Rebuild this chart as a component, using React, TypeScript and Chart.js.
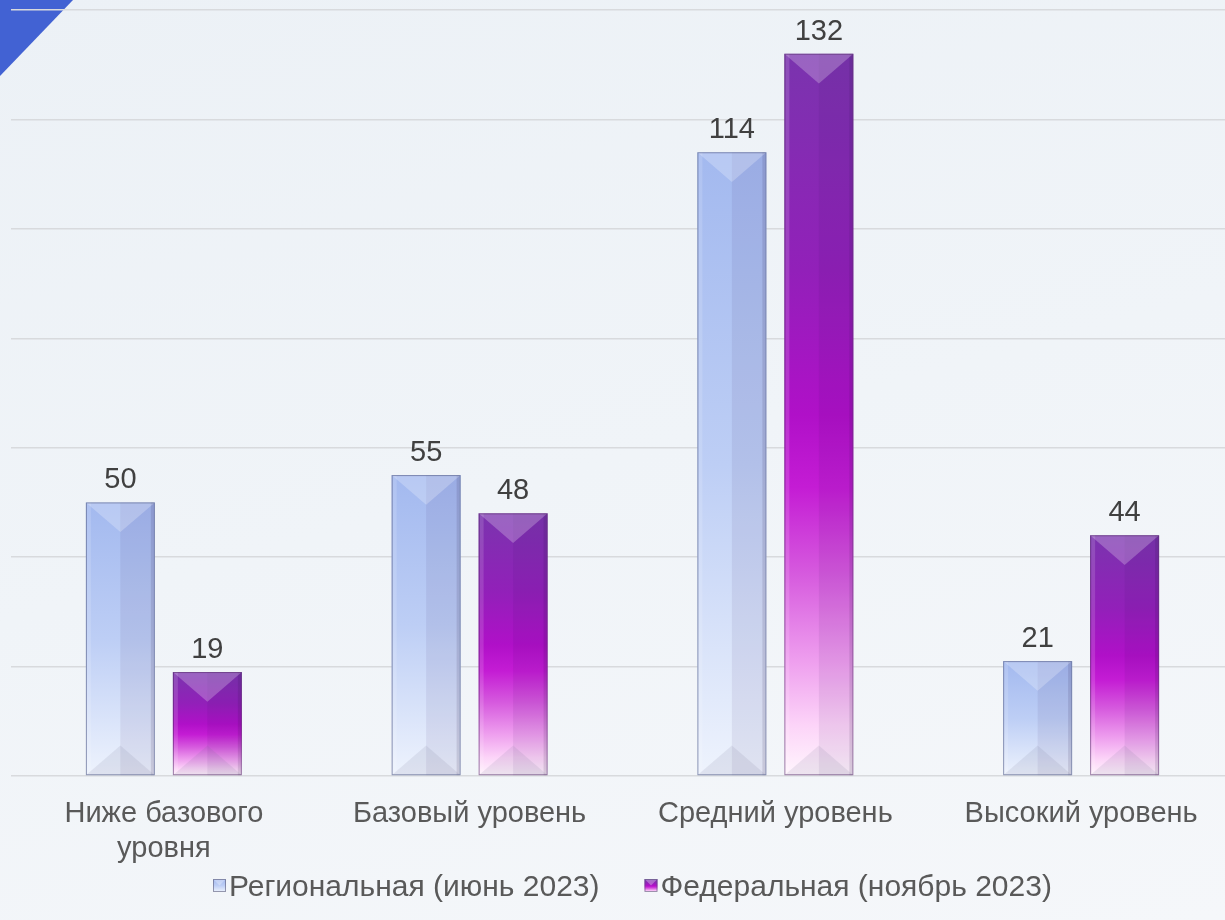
import React, { useEffect, useRef } from "react";
import { Chart, registerables } from "chart.js";

Chart.register(...registerables);

const categories: (string | string[])[] = [
  ["Ниже базового", "уровня"],
  "Базовый уровень",
  "Средний уровень",
  "Высокий уровень",
];
const regionalLabel = "Региональная (июнь 2023)";
const federalLabel = "Федеральная (ноябрь 2023)";
const regionalValues = [50, 55, 114, 21];
const federalValues = [19, 48, 132, 44];
const yMax = 140;
const yStep = 20;

const FONT = "'Liberation Sans', Arial, sans-serif";

const blueStops: [number, string][] = [
  [0, "#a3b9ef"],
  [0.5, "#bdcef5"],
  [1, "#eef3fd"],
];
const purpleStops: [number, string][] = [
  [0, "#7a34ae"],
  [0.3, "#9220b9"],
  [0.5, "#b010c8"],
  [0.6, "#c41cd4"],
  [0.72, "#d65ade"],
  [0.84, "#ee9eee"],
  [0.93, "#fcd4f8"],
  [1, "#fff6fd"],
];

function barGradient(stops: [number, string][]) {
  return (ctx: any) => {
    const chart = ctx.chart;
    const ys = chart.scales?.y;
    if (!chart.chartArea || !ys || ctx.type !== "data" || !ctx.parsed) {
      return stops[Math.floor(stops.length / 2)][1];
    }
    const top = ys.getPixelForValue(ctx.parsed.y);
    const bot = ys.getPixelForValue(0);
    const g = chart.ctx.createLinearGradient(0, top, 0, bot);
    stops.forEach(([o, c]) => g.addColorStop(o, c));
    return g;
  };
}

const bevelPlugin = {
  id: "bevel",
  afterDatasetsDraw(chart: any) {
    const ctx = chart.ctx;
    ctx.save();
    chart.data.datasets.forEach((ds: any, di: number) => {
      const meta = chart.getDatasetMeta(di);
      meta.data.forEach((el: any, i: number) => {
        const { x, y, base, width } = el.getProps(["x", "y", "base", "width"], true);
        const left = x - width / 2;
        const right = x + width / 2;
        const top = Math.min(y, base);
        const bottom = Math.max(y, base);
        const h = bottom - top;
        const d = Math.min(width * 0.43, h / 2);
        ctx.fillStyle = "rgba(40,20,90,0.07)";
        ctx.fillRect(x, top, width / 2, h);
        ctx.fillStyle = "rgba(255,255,255,0.14)";
        ctx.fillRect(left + 1, top, 4, h);
        ctx.fillStyle = "rgba(30,20,60,0.12)";
        ctx.fillRect(right - 4, top, 3, h);
        ctx.beginPath();
        ctx.moveTo(left, top);
        ctx.lineTo(right, top);
        ctx.lineTo(x, top + d);
        ctx.closePath();
        ctx.fillStyle = "rgba(255,255,255,0.24)";
        ctx.fill();
        ctx.beginPath();
        ctx.moveTo(left, bottom);
        ctx.lineTo(right, bottom);
        ctx.lineTo(x, bottom - d);
        ctx.closePath();
        ctx.fillStyle = "rgba(110,110,140,0.12)";
        ctx.fill();
        ctx.strokeStyle = di === 0 ? "rgba(100,110,150,0.7)" : "rgba(90,50,110,0.6)";
        ctx.lineWidth = 1;
        ctx.strokeRect(left + 0.5, top + 0.5, width - 1, h - 1);
        const v = ds.data[i];
        ctx.fillStyle = "#404040";
        ctx.font = `29px ${FONT}`;
        ctx.textAlign = "center";
        ctx.textBaseline = "alphabetic";
        ctx.fillText(String(v), x, top - 14);
      });
    });
    ctx.restore();
  },
};

const legendPlugin = {
  id: "customLegend",
  afterDraw(chart: any) {
    const ctx = chart.ctx;
    ctx.save();
    ctx.font = `30px ${FONT}`;
    const items = chart.data.datasets.map((ds: any, i: number) => ({
      label: ds.label as string,
      stops: i === 0 ? blueStops : purpleStops,
      w: ctx.measureText(ds.label).width,
    }));
    const box = 13;
    const gap = 3;
    const spacing = 45;
    let cx = 213;
    const baseline = 896;
    items.forEach((it: any) => {
      const by = baseline - 17;
      const g = ctx.createLinearGradient(0, by, 0, by + box);
      it.stops.forEach(([o, c]: [number, string]) => g.addColorStop(o, c));
      ctx.fillStyle = g;
      ctx.fillRect(cx, by, box, box);
      ctx.beginPath();
      ctx.moveTo(cx, by);
      ctx.lineTo(cx + box, by);
      ctx.lineTo(cx + box / 2, by + box / 2);
      ctx.closePath();
      ctx.fillStyle = "rgba(255,255,255,0.3)";
      ctx.fill();
      ctx.strokeStyle = "rgba(90,90,120,0.6)";
      ctx.lineWidth = 1;
      ctx.strokeRect(cx + 0.5, by + 0.5, box - 1, box - 1);
      cx += box + gap;
      ctx.fillStyle = "#595959";
      ctx.textAlign = "left";
      ctx.textBaseline = "alphabetic";
      ctx.fillText(it.label, cx, baseline);
      cx += it.w + spacing;
    });
    ctx.restore();
  },
};

export default function App() {
  const ref = useRef<HTMLCanvasElement>(null);
  useEffect(() => {
    if (!ref.current) return;
    const chart = new Chart(ref.current, {
      type: "bar",
      data: {
        labels: categories,
        datasets: [
          {
            label: regionalLabel,
            data: regionalValues,
            backgroundColor: barGradient(blueStops),
            borderWidth: 0,
            categoryPercentage: 0.569,
            barPercentage: 0.793,
          },
          {
            label: federalLabel,
            data: federalValues,
            backgroundColor: barGradient(purpleStops),
            borderWidth: 0,
            categoryPercentage: 0.569,
            barPercentage: 0.793,
          },
        ],
      },
      options: {
        responsive: false,
        animation: false,
        devicePixelRatio: 1,
        layout: { padding: { top: 10, left: 11, right: 6, bottom: 0 } },
        plugins: {
          legend: { display: false },
          tooltip: { enabled: false },
        },
        scales: {
          x: {
            grid: { display: false, drawTicks: false },
            border: { display: false },
            ticks: {
              color: "#595959",
              font: { family: FONT, size: 29, lineHeight: 1.21 },
              padding: 20,
              maxRotation: 0,
              autoSkip: false,
            },
            afterFit: (scale: any) => {
              scale.height = 144;
            },
          },
          y: {
            min: 0,
            max: yMax,
            ticks: { display: false, stepSize: yStep },
            grid: { color: "#d8dadd", lineWidth: 1.5, drawTicks: false },
            border: { display: false },
            afterFit: (scale: any) => {
              scale.width = 0;
            },
          },
        },
      },
      plugins: [bevelPlugin, legendPlugin],
    });
    return () => chart.destroy();
  }, []);

  return (
    <div
      style={{
        position: "fixed",
        left: 0,
        top: 0,
        width: 1225,
        height: 920,
        overflow: "hidden",
        background: "linear-gradient(165deg, #ecf1f6 0%, #f0f4f8 50%, #f5f7fa 100%)",
      }}
    >
      <div
        style={{
          position: "absolute",
          left: 0,
          top: 0,
          width: 73,
          height: 76,
          background: "#4262d3",
          clipPath: "polygon(0 0, 100% 0, 0 100%)",
        }}
      />
      <canvas
        ref={ref}
        width={1240}
        height={920}
        style={{ position: "absolute", left: 0, top: 0, width: 1240, height: 920, display: "block" }}
      />
    </div>
  );
}
